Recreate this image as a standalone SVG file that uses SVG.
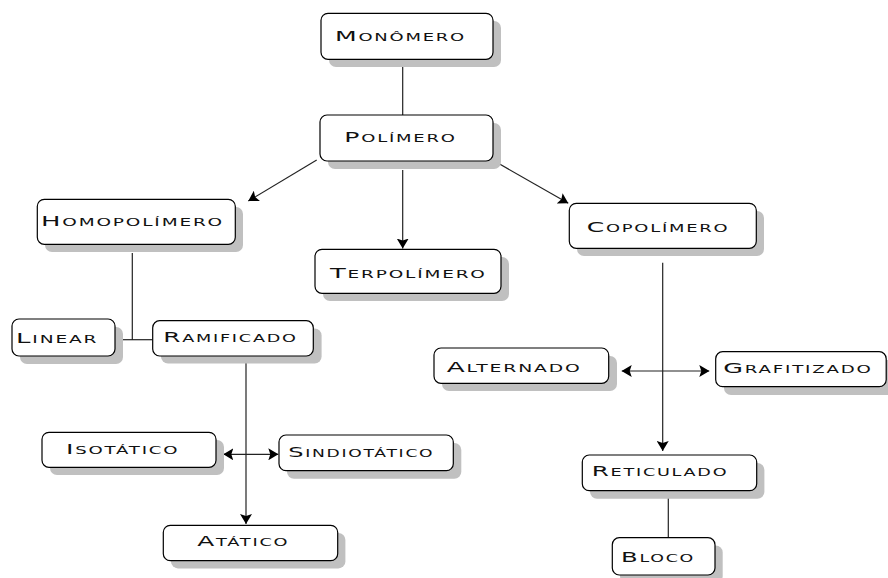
<svg xmlns="http://www.w3.org/2000/svg" width="888" height="578" viewBox="0 0 888 578">
<defs>
<style>
.sh{fill:#c0c0c0;stroke:none}
.bx{fill:#fff;stroke:#000;stroke-width:1.2}
.t{font-family:"DejaVu Sans","Liberation Sans",Arial,sans-serif;font-size:14px;letter-spacing:1px;font-variant:small-caps;fill:#111}
.ln{fill:none;stroke:#222;stroke-width:1.2}
</style>
<marker id="ah" viewBox="0 0 10 12" refX="10" refY="6" markerWidth="10" markerHeight="12" markerUnits="userSpaceOnUse" orient="auto-start-reverse">
<path d="M0,0 L10,6 L0,12 L2,6 z" fill="#000"/>
</marker>
</defs>
<rect width="888" height="578" fill="#fff"/>
<g id="connectors">
<line class="ln" x1="402.7" y1="59" x2="402.7" y2="115"/>
<line class="ln" x1="316.7" y1="160" x2="248.3" y2="201" marker-end="url(#ah)"/>
<line class="ln" x1="402.7" y1="170" x2="402.7" y2="248.5" marker-end="url(#ah)"/>
<line class="ln" x1="498.3" y1="163.3" x2="568.3" y2="203.3" marker-end="url(#ah)"/>
<line class="ln" x1="132.3" y1="253" x2="132.3" y2="340"/>
<line class="ln" x1="121.7" y1="339.7" x2="152.5" y2="339.7"/>
<line class="ln" x1="246" y1="363" x2="246" y2="524" marker-end="url(#ah)"/>
<line class="ln" x1="223.3" y1="454.3" x2="278.3" y2="454.3" marker-start="url(#ah)" marker-end="url(#ah)"/>
<line class="ln" x1="662.7" y1="262.7" x2="662.7" y2="451" marker-end="url(#ah)"/>
<line class="ln" x1="621.7" y1="371" x2="709.3" y2="371" marker-start="url(#ah)" marker-end="url(#ah)"/>
<line class="ln" x1="668.3" y1="490.7" x2="668.3" y2="537.5"/>
</g>
<g id="monomero">
<rect class="sh" x="329" y="21" width="172" height="46" rx="7"/>
<rect class="bx" x="321" y="13.3" width="172" height="46" rx="7"/>
<text class="t" x="335" y="41" textLength="131" lengthAdjust="spacingAndGlyphs">Monômero</text>
</g>
<g id="polimero">
<rect class="sh" x="328" y="123" width="173" height="46" rx="7"/>
<rect class="bx" x="320" y="115" width="173" height="46" rx="7"/>
<text class="t" x="344.3" y="142.3" textLength="112.4" lengthAdjust="spacingAndGlyphs">Polímero</text>
</g>
<g id="homopolimero">
<rect class="sh" x="45" y="207" width="198" height="45" rx="7"/>
<rect class="bx" x="37.3" y="199.3" width="198" height="45" rx="7"/>
<text class="t" x="41" y="226" textLength="183" lengthAdjust="spacingAndGlyphs">Homopolímero</text>
</g>
<g id="terpolimero">
<rect class="sh" x="323" y="257" width="186" height="44" rx="7"/>
<rect class="bx" x="315" y="249.3" width="186" height="44" rx="7"/>
<text class="t" x="330" y="278.3" textLength="156.7" lengthAdjust="spacingAndGlyphs">Terpolímero</text>
</g>
<g id="copolimero">
<rect class="sh" x="577" y="211" width="187" height="45" rx="7"/>
<rect class="bx" x="569.3" y="203.3" width="187" height="45" rx="7"/>
<text class="t" x="586.7" y="232.3" textLength="142.6" lengthAdjust="spacingAndGlyphs">Copolímero</text>
</g>
<g id="linear">
<rect class="sh" x="20" y="327" width="103" height="37" rx="7"/>
<rect class="bx" x="12" y="319" width="103" height="37" rx="7"/>
<text class="t" x="16" y="343.3" textLength="82.3" lengthAdjust="spacingAndGlyphs">Linear</text>
</g>
<g id="ramificado">
<rect class="sh" x="161" y="328.5" width="160.6" height="35" rx="7"/>
<rect class="bx" x="152.7" y="320.7" width="160.6" height="35.3" rx="7"/>
<text class="t" x="163.3" y="342" textLength="134.4" lengthAdjust="spacingAndGlyphs">Ramificado</text>
</g>
<g id="alternado">
<rect class="sh" x="442" y="356" width="175" height="35" rx="7"/>
<rect class="bx" x="434" y="348" width="174.7" height="35.3" rx="7"/>
<text class="t" x="446.7" y="371.7" textLength="135" lengthAdjust="spacingAndGlyphs">Alternado</text>
</g>
<g id="grafitizado">
<rect class="sh" x="724" y="360" width="170" height="35" rx="7"/>
<rect class="bx" x="715.7" y="351.7" width="170.5" height="35" rx="7"/>
<text class="t" x="723.3" y="373.3" textLength="149.4" lengthAdjust="spacingAndGlyphs">Grafitizado</text>
</g>
<g id="isotatico">
<rect class="sh" x="50" y="440" width="174" height="35" rx="7"/>
<rect class="bx" x="42" y="432.3" width="174" height="35" rx="7"/>
<text class="t" x="66" y="454" textLength="113.3" lengthAdjust="spacingAndGlyphs">Isotático</text>
</g>
<g id="sindiotatico">
<rect class="sh" x="287" y="443" width="174.3" height="35.7" rx="7"/>
<rect class="bx" x="279" y="435" width="174.3" height="35.7" rx="7"/>
<text class="t" x="288.3" y="457.3" textLength="146" lengthAdjust="spacingAndGlyphs">Sindiotático</text>
</g>
<g id="atatico">
<rect class="sh" x="171" y="533" width="174.4" height="35.4" rx="7"/>
<rect class="bx" x="163.3" y="525.3" width="174.4" height="35.4" rx="7"/>
<text class="t" x="197.3" y="546" textLength="92" lengthAdjust="spacingAndGlyphs">Atático</text>
</g>
<g id="reticulado">
<rect class="sh" x="590" y="463" width="174.4" height="35.7" rx="7"/>
<rect class="bx" x="582.3" y="455" width="174.4" height="35.7" rx="7"/>
<text class="t" x="591.7" y="476" textLength="136.6" lengthAdjust="spacingAndGlyphs">Reticulado</text>
</g>
<g id="bloco">
<rect class="sh" x="620" y="545.5" width="102.7" height="37.3" rx="7"/>
<rect class="bx" x="612.3" y="537.7" width="102.7" height="37.3" rx="7"/>
<text class="t" x="621" y="562.3" textLength="74" lengthAdjust="spacingAndGlyphs">Bloco</text>
</g>
</svg>
